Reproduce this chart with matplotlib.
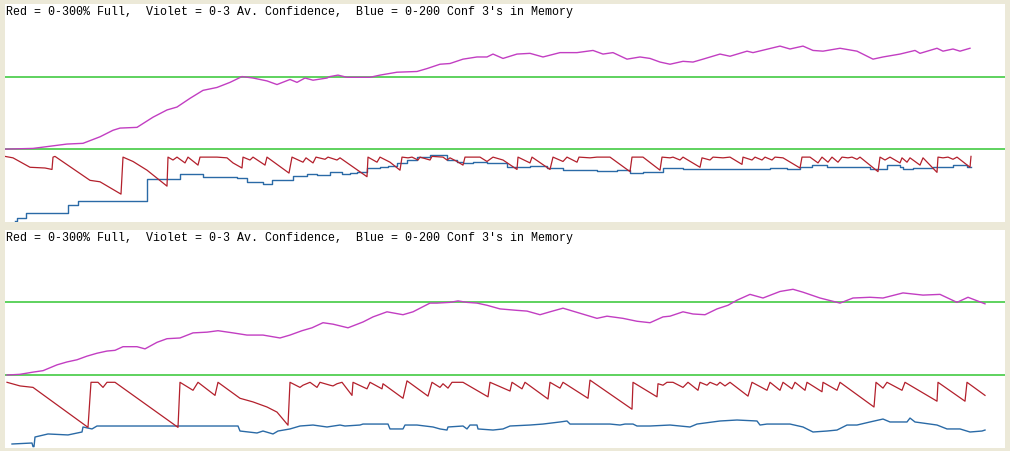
import numpy as np
import matplotlib
matplotlib.use("Agg")
import matplotlib.pyplot as plt

# ----- data (time step, value) -----
caption = "Red = 0-300% Full,  Violet = 0-3 Av. Confidence,  Blue = 0-200 Conf 3's in Memory"

# panel 1
violet_1 = [(0, 1.00), (28, 1.01), (62, 1.07), (78, 1.08), (95, 1.17), (108, 1.26), (115, 1.29),
            (132, 1.30), (148, 1.44), (162, 1.54), (172, 1.58), (185, 1.70), (198, 1.81), (212, 1.85),
            (225, 1.92), (237, 2.00), (248, 1.98), (262, 1.94), (272, 1.89), (285, 1.96), (292, 1.92),
            (300, 1.98), (308, 1.95), (322, 1.98), (325, 2.00), (333, 2.02), (342, 1.99), (365, 1.99),
            (375, 2.02), (392, 2.06), (412, 2.07), (422, 2.11), (435, 2.17), (445, 2.18), (458, 2.24),
            (472, 2.27), (482, 2.27), (488, 2.31), (498, 2.25), (512, 2.31), (525, 2.32), (538, 2.27),
            (555, 2.33), (572, 2.33), (588, 2.36), (598, 2.31), (608, 2.33), (622, 2.24), (635, 2.27),
            (645, 2.25), (655, 2.20), (665, 2.17), (678, 2.21), (688, 2.20), (698, 2.24), (715, 2.31),
            (725, 2.28), (742, 2.35), (748, 2.33), (775, 2.42), (785, 2.38), (798, 2.42), (808, 2.36),
            (818, 2.35), (835, 2.39), (852, 2.35), (868, 2.24), (878, 2.27), (895, 2.31), (910, 2.36),
            (915, 2.32), (932, 2.39), (938, 2.35), (948, 2.38), (955, 2.35), (965, 2.39)]

red_1 = [(0, 90), (8, 88), (25, 75), (40, 74), (47, 72), (48, 89), (50, 90), (85, 57), (95, 55),
         (116, 38), (118, 89), (128, 83), (142, 71), (162, 49), (163, 89), (168, 85), (172, 89),
         (180, 81), (183, 89), (193, 78), (195, 89), (212, 89), (222, 88), (228, 81), (237, 74),
         (238, 89), (245, 85), (248, 89), (260, 78), (262, 89), (284, 67), (287, 89), (298, 82),
         (301, 88), (308, 81), (311, 89), (320, 86), (323, 89), (332, 85), (335, 88), (362, 62),
         (363, 89), (372, 82), (375, 89), (385, 82), (395, 71), (397, 89), (403, 88), (407, 89),
         (413, 85), (415, 89), (425, 85), (427, 90), (438, 89), (442, 85), (445, 88), (452, 83),
         (458, 78), (460, 89), (475, 89), (482, 83), (488, 89), (498, 85), (512, 72), (513, 89),
         (525, 81), (527, 89), (545, 72), (548, 89), (558, 83), (562, 89), (572, 82), (574, 89),
         (585, 88), (592, 89), (605, 89), (625, 69), (627, 89), (638, 89), (655, 71), (657, 89),
         (665, 88), (668, 89), (675, 85), (678, 89), (695, 75), (697, 88), (705, 85), (708, 89),
         (718, 88), (725, 89), (737, 79), (738, 89), (747, 85), (750, 89), (757, 85), (760, 89),
         (767, 85), (770, 89), (778, 88), (795, 74), (797, 89), (805, 89), (813, 81), (817, 89),
         (823, 82), (827, 89), (833, 82), (837, 89), (843, 88), (847, 89), (852, 86), (855, 89),
         (873, 69), (875, 89), (880, 85), (885, 89), (895, 81), (897, 88), (902, 82), (905, 88),
         (915, 78), (918, 88), (932, 68), (933, 89), (938, 88), (943, 89), (948, 86), (952, 89),
         (965, 75), (966, 90)]

blue_1 = [(10, 0.6), (12, 3.4), (21, 8.0), (63, 15.3), (73, 19.0), (142, 39.2), (175, 43.8),
          (198, 41.0), (232, 40.1), (242, 36.4), (258, 34.6), (267, 38.3), (288, 41.9), (302, 43.8),
          (312, 42.8), (325, 45.6), (337, 43.8), (345, 44.7), (352, 45.6), (362, 49.3), (375, 50.2),
          (383, 51.1), (392, 53.9), (402, 56.6), (412, 59.4), (425, 61.2), (442, 56.6), (452, 54.8),
          (458, 53.9), (468, 54.8), (482, 53.9), (502, 50.2), (525, 51.1), (542, 49.3), (558, 47.4),
          (592, 46.5), (612, 47.4), (625, 44.7), (638, 45.6), (658, 49.3), (678, 48.4), (765, 49.3),
          (782, 48.4), (795, 50.2), (807, 52.0), (822, 50.2), (865, 48.4), (882, 52.0), (895, 50.2),
          (898, 48.4), (908, 49.3), (928, 50.2), (948, 52.0), (962, 50.2), (966, 50.2)]

# panel 2
violet_2 = [(2, 1.00), (15, 1.01), (28, 1.04), (38, 1.06), (52, 1.14), (62, 1.18), (72, 1.21),
            (82, 1.26), (92, 1.30), (102, 1.33), (110, 1.34), (118, 1.39), (132, 1.39), (140, 1.36),
            (152, 1.45), (162, 1.50), (175, 1.51), (188, 1.58), (202, 1.59), (213, 1.61), (228, 1.58),
            (242, 1.55), (258, 1.55), (275, 1.51), (285, 1.55), (297, 1.61), (307, 1.65), (318, 1.72),
            (328, 1.70), (343, 1.65), (358, 1.73), (368, 1.80), (382, 1.87), (398, 1.83), (408, 1.87),
            (425, 1.99), (432, 1.99), (445, 2.00), (453, 2.02), (462, 2.00), (472, 1.99), (482, 1.96),
            (495, 1.91), (512, 1.89), (522, 1.88), (535, 1.83), (545, 1.87), (558, 1.92), (575, 1.85),
            (592, 1.78), (602, 1.81), (618, 1.78), (632, 1.74), (645, 1.72), (658, 1.80), (665, 1.81),
            (678, 1.87), (688, 1.84), (700, 1.83), (712, 1.91), (723, 1.96), (732, 2.03), (745, 2.11),
            (758, 2.06), (775, 2.15), (788, 2.18), (798, 2.14), (815, 2.06), (835, 1.99), (848, 2.06),
            (865, 2.07), (878, 2.06), (898, 2.13), (918, 2.10), (935, 2.11), (952, 2.00), (963, 2.07),
            (980, 1.98)]

red_2 = [(2, 90), (15, 85), (28, 83), (83, 28), (86, 90), (93, 90), (98, 83), (102, 90), (110, 90),
         (173, 28), (175, 90), (188, 79), (193, 90), (210, 72), (213, 90), (235, 68), (248, 63),
         (262, 56), (272, 49), (283, 31), (285, 90), (295, 83), (298, 86), (305, 90), (312, 83),
         (315, 90), (325, 86), (328, 85), (332, 88), (337, 90), (347, 72), (348, 90), (362, 81),
         (365, 90), (377, 81), (378, 88), (398, 68), (402, 92), (423, 71), (427, 90), (435, 83),
         (438, 88), (443, 82), (447, 90), (458, 90), (483, 70), (485, 90), (505, 78), (507, 90),
         (517, 81), (520, 90), (543, 67), (545, 90), (555, 82), (558, 90), (583, 68), (585, 93),
         (627, 53), (628, 90), (652, 70), (653, 88), (658, 86), (662, 90), (668, 90), (678, 83),
         (683, 90), (693, 79), (695, 90), (702, 86), (705, 90), (712, 86), (715, 90), (720, 85),
         (725, 90), (743, 71), (747, 90), (762, 79), (765, 90), (775, 79), (778, 90), (787, 81),
         (790, 90), (800, 79), (802, 90), (817, 77), (818, 90), (832, 79), (835, 90), (869, 56),
         (871, 90), (878, 82), (882, 90), (897, 79), (900, 90), (932, 64), (933, 90), (960, 64),
         (962, 90), (980, 72)]

blue_2 = [(7, 3.4), (27, 4.3), (28, 1.0), (29, 1.0), (30, 9.8), (43, 12.6), (63, 11.7), (77, 14.4),
          (78, 19.0), (87, 17.2), (92, 19.9), (233, 19.9), (235, 15.3), (252, 13.5), (258, 15.3),
          (268, 12.6), (273, 15.3), (285, 17.2), (295, 19.9), (308, 20.8), (322, 19.0), (335, 20.8),
          (340, 19.9), (355, 20.8), (358, 21.7), (383, 21.7), (385, 17.2), (398, 17.2), (400, 20.8),
          (412, 20.8), (428, 19.0), (435, 17.2), (442, 16.2), (443, 19.0), (458, 19.9), (462, 17.2),
          (465, 20.8), (472, 20.8), (473, 17.2), (488, 16.2), (498, 17.2), (505, 19.9), (525, 20.8),
          (538, 21.7), (555, 23.6), (562, 24.5), (565, 21.7), (605, 21.7), (615, 20.8), (620, 21.7),
          (628, 21.7), (632, 19.9), (645, 19.9), (665, 20.8), (685, 19.0), (692, 21.7), (715, 24.5),
          (732, 25.4), (752, 24.5), (755, 20.8), (762, 21.7), (785, 21.7), (798, 19.0), (808, 14.4),
          (822, 15.3), (832, 16.2), (842, 20.8), (852, 20.8), (865, 23.6), (878, 26.3), (885, 23.6),
          (902, 23.6), (905, 27.2), (910, 23.6), (925, 21.7), (932, 20.8), (942, 17.2), (955, 17.2),
          (965, 14.4), (977, 15.3), (980, 16.2)]

# blue is a staircase in the first run, a smoother trace in the second
panels = [(violet_1, red_1, blue_1, "steps-post"), (violet_2, red_2, blue_2, "default")]

# ----- styles -----
W, H = 1010, 451
BG = "#ECE9D8"
C_GREEN = "#33C633"
C_VIOLET = "#C23EC2"
C_RED = "#B3202C"
C_BLUE = "#2A6AA6"

# panel pixel boxes: left, top, right, bottom
boxes = [(5, 4, 1005, 221.7), (5, 229.7, 1005, 447.7)]

fig = plt.figure(figsize=(W / 100, H / 100), dpi=100)
fig.patch.set_facecolor(BG)

for (left, top, right, bottom), (vio, red, blu, blue_style) in zip(boxes, panels):
    ax = fig.add_axes([left / W, 1 - bottom / H, (right - left) / W, (bottom - top) / H])
    ax.set_facecolor("white")
    ax.set_xlim(0, right - left)
    ax.set_ylim(0, 3)  # full height = violet 0-3, red 0-300%, blue 0-200
    ax.set_xticks([])
    ax.set_yticks([])
    for s in ax.spines.values():
        s.set_visible(False)

    ax.axhline(1, color=C_GREEN, lw=1.1)
    ax.axhline(2, color=C_GREEN, lw=1.1)

    t, v = zip(*blu)
    ax.plot(t, np.array(v) * 3 / 200, color=C_BLUE, lw=1.0, drawstyle=blue_style)
    t, v = zip(*red)
    ax.plot(t, np.array(v) / 100, color=C_RED, lw=0.9)
    t, v = zip(*vio)
    ax.plot(t, v, color=C_VIOLET, lw=1.0)

    fig.text(6 / W, 1 - (top + 8) / H, caption, family="Liberation Mono",
             fontsize=8.4, va="center", ha="left", color="black")

fig.savefig("out.png", dpi=100, facecolor=BG)
